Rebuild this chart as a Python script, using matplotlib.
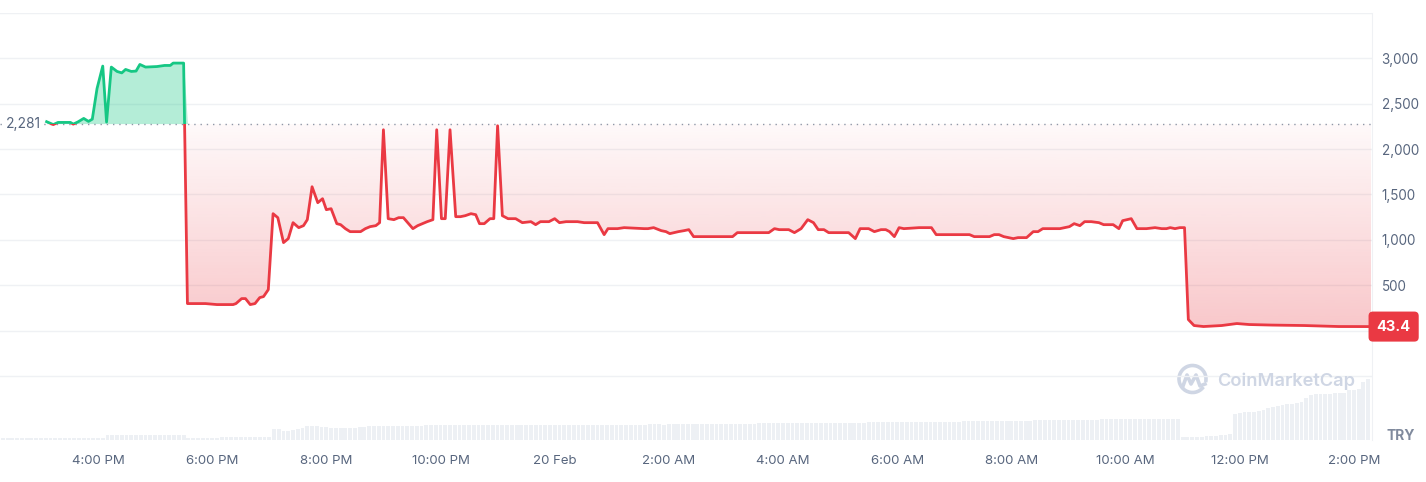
import numpy as np
import pandas as pd
import matplotlib
matplotlib.use("Agg")
import matplotlib.pyplot as plt
import matplotlib.dates as mdates
import matplotlib.transforms as mtransforms
from matplotlib.patches import Rectangle, Arc
from matplotlib.lines import Line2D
from matplotlib.colors import to_rgb

plt.rcParams["font.family"] = ["Inter", "DejaVu Sans"]

# =============================
# Data (TRY price, 24h window)
# =============================

start_day = "2024-02-19"
open_price = 2281

price_time = [
    "15:06", "15:13", "15:18", "15:31", "15:34", "15:39", "15:45", "15:50", "15:54", "15:59",
    "16:05", "16:09", "16:14", "16:20", "16:25", "16:29", "16:35", "16:40", "16:44", "16:50",
    "17:02", "17:10", "17:16", "17:19", "17:30", "17:34", "17:53", "18:05", "18:22", "18:25",
    "18:31", "18:35", "18:40", "18:45", "18:50", "18:54", "18:59", "19:04", "19:09", "19:15",
    "19:20", "19:25", "19:31", "19:36", "19:40", "19:45", "19:51", "19:56", "20:00", "20:05",
    "20:11", "20:15", "20:20", "20:25", "20:36", "20:41", "20:46", "20:52", "20:56", "21:00",
    "21:05", "21:11", "21:16", "21:21", "21:31", "21:36", "21:41", "21:46", "21:52", "21:56",
    "22:01", "22:05", "22:10", "22:16", "22:21", "22:26", "22:32", "22:37", "22:41", "22:46",
    "22:52", "22:56", "23:00", "23:05", "23:11", "23:19", "23:26", "23:35", "23:40", "23:45",
    "23:54", "00:00", "00:05", "00:12", "00:24", "00:31", "00:45", "00:52", "00:56", "01:06",
    "01:13", "01:34", "01:38", "01:44", "01:52", "01:57", "02:01", "02:10", "02:16", "02:21",
    "02:26", "03:07", "03:12", "03:45", "03:51", "03:56", "04:06", "04:12", "04:19", "04:26",
    "04:32", "04:37", "04:43", "04:48", "05:09", "05:16", "05:21", "05:30", "05:36", "05:43",
    "05:48", "05:52", "05:57", "06:02", "06:07", "06:23", "06:36", "06:41", "07:16", "07:21",
    "07:37", "07:42", "07:47", "07:52", "07:57", "08:02", "08:07", "08:16", "08:23", "08:28",
    "08:33", "08:51", "09:01", "09:06", "09:12", "09:17", "09:24", "09:32", "09:37", "09:47",
    "09:53", "09:57", "10:06", "10:12", "10:22", "10:31", "10:38", "10:43", "10:47", "10:52",
    "10:57", "11:02", "11:06", "11:12", "11:22", "11:41", "11:57", "12:10", "12:34", "13:08",
    "13:44", "14:12", "14:18",
]
price = [
    2302, 2270, 2294, 2294, 2275, 2300, 2338, 2305, 2330, 2668,
    2915, 2298, 2904, 2856, 2840, 2878, 2856, 2860, 2933, 2904,
    2910, 2922, 2922, 2948, 2948, 297, 297, 286, 286, 297,
    352, 352, 286, 297, 363, 374, 451, 1288, 1244, 969,
    1013, 1189, 1134, 1156, 1222, 1585, 1409, 1453, 1332, 1343,
    1178, 1167, 1123, 1090, 1090, 1123, 1145, 1156, 1189, 2213,
    1233, 1222, 1244, 1244, 1123, 1156, 1178, 1200, 1222, 2213,
    1233, 1233, 2213, 1255, 1255, 1266, 1288, 1277, 1178, 1178,
    1233, 1233, 2257, 1266, 1233, 1233, 1189, 1200, 1167, 1200,
    1200, 1233, 1189, 1200, 1200, 1189, 1189, 1057, 1123, 1123,
    1134, 1123, 1123, 1134, 1101, 1090, 1068, 1090, 1101, 1112,
    1035, 1035, 1079, 1079, 1123, 1112, 1112, 1079, 1123, 1222,
    1189, 1112, 1112, 1079, 1079, 1013, 1123, 1123, 1090, 1112,
    1112, 1090, 1035, 1134, 1123, 1134, 1134, 1057, 1057, 1035,
    1035, 1057, 1057, 1035, 1024, 1013, 1024, 1024, 1090, 1090,
    1123, 1123, 1145, 1178, 1156, 1200, 1200, 1189, 1167, 1167,
    1123, 1211, 1233, 1123, 1123, 1134, 1123, 1123, 1134, 1123,
    1134, 1134, 121, 55, 44, 55, 77, 66, 60, 55,
    44, 44, 43.4,
]

# volume, one bar every 5 minutes from 14:20 (relative units)
volume_start = "2024-02-19 14:20"
volume = [
    1.8, 1.8, 2.0, 2.0, 1.8, 2.0, 2.0, 2.0, 1.8, 2.0, 2.0, 2.0,
    2.0, 2.0, 2.0, 1.8, 2.0, 2.0, 2.0, 2.0, 2.0, 2.0, 5.5, 5.5,
    5.5, 5.5, 5.5, 5.5, 5.2, 5.5, 5.5, 5.5, 5.2, 5.5, 5.5, 5.2,
    5.2, 5.2, 5.2, 2.5, 2.2, 2.2, 2.2, 2.5, 2.5, 2.5, 2.8, 2.8,
    3.0, 3.0, 3.2, 3.2, 3.2, 3.5, 3.5, 3.5, 3.5, 11.5, 11.0, 9.0,
    9.5, 10.5, 11.5, 12.0, 14.5, 14.0, 14.0, 13.5, 13.0, 12.5, 12.5, 12.0,
    12.0, 12.0, 12.5, 13.0, 13.5, 14.0, 14.0, 14.0, 14.5, 14.5, 14.5, 14.5,
    14.5, 14.5, 14.0, 14.0, 14.5, 15.0, 15.0, 15.0, 15.0, 15.0, 15.5, 15.0,
    15.0, 15.0, 15.0, 15.0, 15.0, 15.0, 15.5, 15.0, 15.0, 15.0, 15.0, 15.0,
    15.0, 15.0, 15.0, 15.0, 15.0, 15.0, 15.0, 15.0, 15.0, 15.0, 15.0, 15.0,
    15.0, 15.0, 15.0, 15.5, 15.5, 15.5, 15.0, 15.5, 15.5, 15.5, 15.5, 15.5,
    15.5, 15.5, 15.5, 15.5, 16.0, 16.0, 16.0, 15.5, 16.0, 16.0, 16.0, 16.0,
    16.0, 16.0, 16.0, 16.0, 16.0, 16.5, 16.5, 16.5, 16.5, 16.5, 16.5, 16.5,
    16.5, 16.5, 16.5, 17.0, 17.0, 17.0, 17.0, 17.0, 17.0, 17.0, 17.0, 17.0,
    17.0, 17.0, 17.0, 17.0, 17.5, 17.5, 17.5, 17.5, 17.5, 17.5, 17.5, 17.5,
    17.5, 17.5, 18.0, 18.0, 18.0, 18.0, 18.0, 18.0, 18.0, 18.0, 18.0, 18.0,
    18.0, 18.0, 18.0, 18.5, 18.5, 18.5, 18.5, 18.5, 18.5, 18.5, 19.0, 19.0,
    19.0, 19.0, 19.0, 19.0, 19.0, 19.0, 19.5, 19.5, 19.5, 19.5, 19.5, 19.5,
    19.5, 20.0, 20.0, 20.0, 20.0, 20.0, 20.0, 20.0, 20.5, 20.5, 20.5, 20.5,
    20.5, 20.5, 20.5, 21.0, 21.0, 21.0, 21.0, 21.0, 21.0, 21.0, 21.0, 21.0,
    21.5, 21.5, 21.5, 21.5, 21.5, 21.5, 21.5, 21.5, 3.5, 3.0, 3.0, 3.5,
    3.5, 4.0, 4.0, 4.5, 5.0, 5.5, 6.0, 26.0, 27.0, 28.0, 28.0, 28.0,
    29.0, 30.0, 32.0, 33.0, 34.0, 35.0, 36.0, 36.0, 37.0, 38.0, 42.0, 45.0,
    46.0, 46.0, 46.5, 46.5, 47.0, 47.0, 47.0, 50.0, 50.0, 51.0, 58.0, 61.0,
]

x_ticks = pd.date_range("2024-02-19 16:00", "2024-02-20 14:00", freq="2h")
x_tick_labels = ["4:00 PM", "6:00 PM", "8:00 PM", "10:00 PM", "20 Feb", "2:00 AM",
                 "4:00 AM", "6:00 AM", "8:00 AM", "10:00 AM", "12:00 PM", "2:00 PM"]
grid_levels = [-500, 0, 500, 1000, 1500, 2000, 2500, 3000, 3500]
y_tick_labels = ["", "", "500", "1,000", "1,500", "2,000", "2,500", "3,000", ""]

x_start = "2024-02-19 14:17"
x_end = "2024-02-20 14:19"

GREEN = "#16c784"
RED = "#ea3943"
GRID = "#eff1f4"
TXT = "#58667e"


def to_datetimes(hhmm, day):
    """Turn a list of HH:MM into timestamps, rolling over midnight."""
    day = pd.Timestamp(day)
    out = []
    prev = None
    for s in hhmm:
        t = pd.Timestamp(f"{day.date()} {s}")
        if prev is not None and t < prev:
            day += pd.Timedelta(days=1)
            t += pd.Timedelta(days=1)
        out.append(t)
        prev = t
    return out


# =============================
# Figure
# =============================

fig = plt.figure(figsize=(14.26, 4.82), dpi=100)
pos = [0.0, 0.0871, 0.9621, 0.8859]

ax_vol = fig.add_axes(pos)
ax = fig.add_axes(pos, sharex=ax_vol)
ax.set_zorder(2)
ax.patch.set_alpha(0)

times = mdates.date2num(to_datetimes(price_time, start_day))
price = np.array(price, dtype=float)

# volume bars
vol_times = pd.date_range(volume_start, periods=len(volume), freq="5min")
ax_vol.bar(vol_times, volume, width=4.0 / 1440, color="#edf0f4", linewidth=0)
ax_vol.set_ylim(0, 427)
ax_vol.axis("off")

# grid
for g in grid_levels:
    ax.axhline(g, color=GRID, lw=1, zorder=0)

# green area above the open price
ax.fill_between(times, open_price, np.maximum(price, open_price),
                color=GREEN, alpha=0.32, linewidth=0, zorder=1)

# red area below with a vertical gradient
coll = ax.fill_between(times, np.minimum(price, open_price), open_price,
                       facecolor="none", linewidth=0)
grad = np.linspace(0, 1, 256)
rgba = np.zeros((256, 1, 4))
rgba[:, 0, :3] = to_rgb(RED)
rgba[:, 0, 3] = 0.28 - 0.25 * grad
im = ax.imshow(rgba, origin="lower", aspect="auto", zorder=1,
               extent=[times[0], times[-1], price.min(), open_price])
im.set_clip_path(coll.get_paths()[0], transform=ax.transData)

# open price dotted reference
ax.axhline(open_price, color="#8f98a8", lw=1, linestyle=(0, (1, 3.5)), zorder=2)

# price line, coloured by side of the open price
span = times[-1] - times[0]
up, = ax.plot(times, price, color=GREEN, lw=2.0, zorder=4, solid_joinstyle="round")
dn, = ax.plot(times, price, color=RED, lw=2.0, zorder=4, solid_joinstyle="round")
up.set_clip_path(Rectangle((times[0] - 1, open_price), span + 2, 1e5, transform=ax.transData))
dn.set_clip_path(Rectangle((times[0] - 1, open_price - 1e5), span + 2, 1e5, transform=ax.transData))

# axes
ax.set_xlim(pd.Timestamp(x_start), pd.Timestamp(x_end))
ax.set_ylim(-1207, 3500)
ax.set_xticks(x_ticks)
ax.set_xticklabels(x_tick_labels)
ax.yaxis.tick_right()
ax.set_yticks(grid_levels)
ax.set_yticklabels(y_tick_labels)
ax.tick_params(axis="x", length=0, pad=11, labelsize=9.5, labelcolor=TXT)
ax.tick_params(axis="y", length=0, pad=7, labelsize=9.7, labelcolor=TXT)
for side in ["top", "left", "bottom"]:
    ax.spines[side].set_visible(False)
ax.spines["right"].set_color(GRID)

blend = mtransforms.blended_transform_factory(ax.transAxes, ax.transData)
ax.text(0.0045, open_price, f"{open_price:,}", transform=blend, ha="left", va="center",
        fontsize=10, color=TXT, zorder=5,
        bbox=dict(facecolor="white", edgecolor="none", pad=1.5))
ax.text(1.0158, price[-1], f"{price[-1]:.1f}", transform=blend, ha="center", va="center",
        fontsize=10.5, fontweight="bold", color="white", clip_on=False, zorder=6,
        bbox=dict(boxstyle="round,pad=0.55,rounding_size=0.3", facecolor=RED, edgecolor="none"))

# currency + watermark
fig.text(1401 / 1426, 1 - 436 / 482, "TRY", ha="center", va="center",
         fontsize=10, fontweight="bold", color="#808a9d")
WM = "#cfd6e4"
fig.text(1217 / 1426, 1 - 381 / 482, "CoinMarketCap", ha="left", va="center",
         fontsize=13.2, fontweight="semibold", color=WM)
cx, cy = 1192.5 / 1426, 1 - 379 / 482
fig.add_artist(Arc((cx, cy), 27 / 1426, 27 / 482, theta1=-35, theta2=295,
                   color=WM, lw=2.6, transform=fig.transFigure))
mx = np.array([1183, 1187, 1191, 1196, 1200, 1205]) / 1426
my = 1 - np.array([386, 375, 384, 375, 386, 384]) / 482
fig.add_artist(Line2D(mx, my, color=WM, lw=2.6, transform=fig.transFigure,
                      solid_joinstyle="round"))

fig.savefig("out.png", dpi=100)
